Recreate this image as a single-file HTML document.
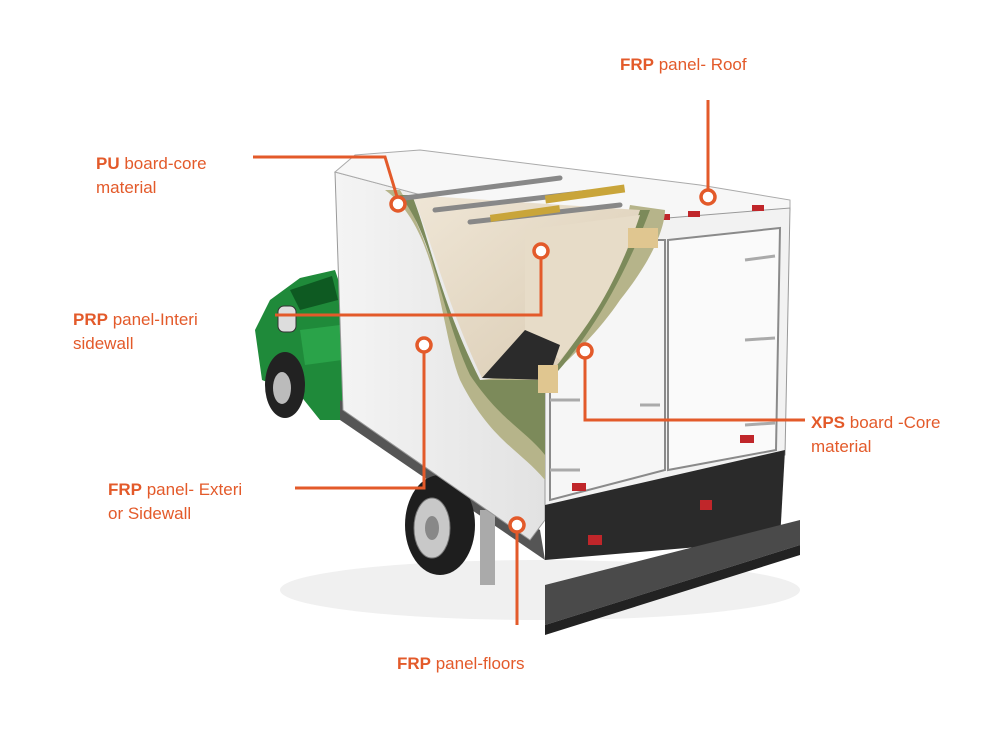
<!DOCTYPE html>
<html><head><meta charset="utf-8">
<style>
html,body{margin:0;padding:0;background:#fff;}
body{width:1000px;height:750px;position:relative;overflow:hidden;font-family:"Liberation Sans",sans-serif;}
.l{position:absolute;color:#e35a2a;font-size:17px;line-height:24px;}
.l b{font-weight:bold;}
</style></head><body>
<svg width="1000" height="750" style="position:absolute;left:0;top:0">
<defs>
<linearGradient id="side" x1="0" y1="0" x2="1" y2="0"><stop offset="0" stop-color="#f4f4f4"/><stop offset="1" stop-color="#e2e2e2"/></linearGradient>
<linearGradient id="in" x1="0" y1="0" x2="1" y2="1"><stop offset="0" stop-color="#efe6d6"/><stop offset="1" stop-color="#d8c9b0"/></linearGradient>
</defs>
<!-- ground shadow -->
<ellipse cx="540" cy="590" rx="260" ry="30" fill="#f0f0f0"/>
<!-- green cab -->
<path d="M255,330 L270,300 L300,278 L335,270 L345,300 L348,420 L320,420 L300,395 L262,380 Z" fill="#1f8a3a"/>
<path d="M290,290 L332,276 L338,300 L300,310 Z" fill="#0e5a22"/>
<path d="M300,330 L340,325 L342,360 L305,365 Z" fill="#2aa349"/>
<rect x="278" y="306" width="18" height="26" rx="6" fill="#ddd" stroke="#333"/>
<!-- front wheel -->
<ellipse cx="285" cy="385" rx="20" ry="33" fill="#222"/>
<ellipse cx="282" cy="388" rx="9" ry="16" fill="#bbb"/>
<!-- chassis -->
<path d="M340,400 L540,530 L545,560 L340,420 Z" fill="#555"/>
<rect x="480" y="510" width="15" height="75" fill="#aaa"/>
<!-- rear wheel -->
<ellipse cx="440" cy="525" rx="35" ry="50" fill="#1e1e1e"/>
<ellipse cx="432" cy="528" rx="18" ry="30" fill="#c8c8c8" stroke="#777"/>
<ellipse cx="432" cy="528" rx="7" ry="12" fill="#888"/>
<!-- side panel -->
<path d="M335,172 L545,228 L545,520 L530,540 L343,410 Z" fill="url(#side)" stroke="#999"/>
<!-- roof -->
<path d="M335,172 L355,155 L420,150 L700,185 L790,200 L790,210 L545,228 Z" fill="#f7f7f7" stroke="#aaa"/>
<!-- rear face -->
<path d="M545,228 L790,208 L785,455 L545,510 Z" fill="#f2f2f2" stroke="#999"/>
<path d="M668,240 L780,228 L776,450 L668,470 Z" fill="#fafafa" stroke="#8a8a8a" stroke-width="2"/>
<path d="M550,240 L665,240 L665,470 L550,500 Z" fill="#f6f6f6" stroke="#8a8a8a" stroke-width="2"/>
<!-- lower rear dark -->
<path d="M545,505 L785,450 L780,540 L545,560 Z" fill="#2a2a2a"/>
<!-- step bumper -->
<path d="M545,585 L800,520 L800,545 L545,625 Z" fill="#4a4a4a"/>
<path d="M545,625 L800,545 L800,555 L545,635 Z" fill="#222"/>
<!-- lights -->
<rect x="572" y="483" width="14" height="8" fill="#c0262a"/>
<rect x="588" y="535" width="14" height="10" fill="#c0262a"/>
<rect x="700" y="500" width="12" height="10" fill="#c0262a"/>
<rect x="740" y="435" width="14" height="8" fill="#c0262a"/>
<rect x="658" y="214" width="12" height="6" fill="#c0262a"/>
<rect x="688" y="211" width="12" height="6" fill="#c0262a"/>
<rect x="752" y="205" width="12" height="6" fill="#c0262a"/>
<!-- cutaway: insulation wall -->
<path d="M385,190 C440,230 440,330 460,380 C490,440 520,450 545,480 L545,380 C570,360 600,330 620,300 C660,250 665,220 665,210 L630,205 C620,260 580,320 548,372 L480,380 C440,300 430,240 400,190 Z" fill="#b6b48a"/>
<path d="M400,195 C435,240 440,310 470,375 C500,420 525,430 545,455 L545,385 C580,350 620,290 650,210 L640,210 C610,300 570,350 545,380 L480,380 C440,300 430,240 412,195 Z" fill="#7c8a5a"/>
<!-- interior -->
<path d="M412,195 L640,210 C610,300 570,350 545,380 L482,378 C445,300 432,240 412,195 Z" fill="url(#in)"/>
<path d="M525,230 L640,215 C615,290 585,330 560,360 L525,330 Z" fill="#e7dcc8"/>
<path d="M482,378 L525,330 L560,345 L548,380 Z" fill="#2b2b2b"/>
<!-- roof bars -->
<g stroke="#888" stroke-width="5" stroke-linecap="round">
<line x1="405" y1="198" x2="560" y2="178"/>
<line x1="435" y1="210" x2="590" y2="192"/>
<line x1="470" y1="222" x2="620" y2="205"/>
</g>
<rect x="545" y="190" width="80" height="8" fill="#c9a53a" transform="rotate(-8 585 194)"/>
<rect x="490" y="210" width="70" height="7" fill="#c9a53a" transform="rotate(-8 525 213)"/>
<rect x="628" y="228" width="30" height="20" fill="#e0c690"/>
<rect x="538" y="365" width="20" height="28" fill="#e0c690"/>
<!-- door hardware -->
<g stroke="#aaa" stroke-width="3">
<line x1="745" y1="260" x2="775" y2="256"/><line x1="745" y1="340" x2="775" y2="338"/><line x1="745" y1="425" x2="775" y2="423"/>
<line x1="550" y1="400" x2="580" y2="400"/><line x1="550" y1="470" x2="580" y2="470"/>
<line x1="640" y1="405" x2="660" y2="405"/>
</g>
<!-- callouts -->
<g stroke="#e35a2a" stroke-width="3" fill="none">
<polyline points="253,157 385,157 398,200"/>
<polyline points="275,315 541,315 541,258"/>
<line x1="708" y1="100" x2="708" y2="190"/>
<polyline points="585,358 585,420 805,420"/>
<polyline points="424,352 424,488 295,488"/>
<line x1="517" y1="532" x2="517" y2="625"/>
</g>
<g stroke="#e35a2a" stroke-width="3.5" fill="#fff">
<circle cx="398" cy="204" r="7"/>
<circle cx="541" cy="251" r="7"/>
<circle cx="708" cy="197" r="7"/>
<circle cx="585" cy="351" r="7"/>
<circle cx="424" cy="345" r="7"/>
<circle cx="517" cy="525" r="7"/>
</g>
</svg>
<div class="l" style="left:620px;top:53px"><b>FRP</b> panel- Roof</div>
<div class="l" style="left:96px;top:152px"><b>PU</b> board-core<br>material</div>
<div class="l" style="left:73px;top:308px"><b>PRP</b> panel-Interi<br>sidewall</div>
<div class="l" style="left:811px;top:411px"><b>XPS</b> board -Core<br>material</div>
<div class="l" style="left:108px;top:478px"><b>FRP</b> panel- Exteri<br>or Sidewall</div>
<div class="l" style="left:397px;top:652px"><b>FRP</b> panel-floors</div>
</body></html>
